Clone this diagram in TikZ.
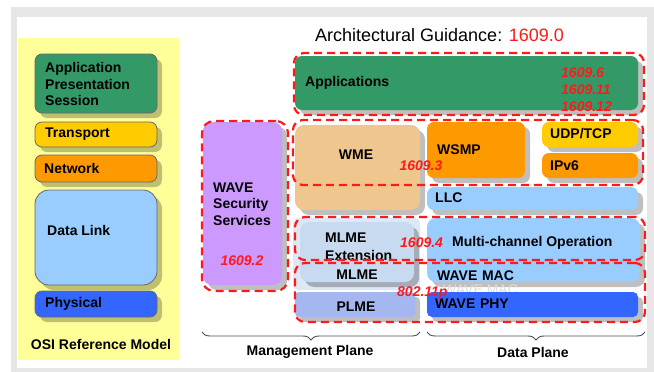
\documentclass[tikz,border=0pt]{standalone}
\usepackage{fontspec}
\setmainfont{Liberation Sans}
\usetikzlibrary{decorations.pathreplacing}

\definecolor{frameG}{HTML}{E6E6E6}
\definecolor{panelY}{HTML}{FFFF99}
\definecolor{layGreen}{HTML}{339966}
\definecolor{layGold}{HTML}{FFCC00}
\definecolor{layOrange}{HTML}{FF9900}
\definecolor{laySky}{HTML}{99CCFF}
\definecolor{layBlue}{HTML}{3366FF}
\definecolor{layPurple}{HTML}{CC99FF}
\definecolor{layTan}{HTML}{EFC68E}
\definecolor{layPale}{HTML}{DCE8F5}
\definecolor{layMlme}{HTML}{C7DAEF}
\definecolor{layPlme}{HTML}{A4B7F0}
\definecolor{stdRed}{HTML}{FF1A1A}

% \slab[style]{x1}{y1}{x2}{y2}{name}: a box node spanning the given corners
\newcommand\slab[6][]{%
  \node[slab,#1,minimum width={#4-#2},minimum height={#5-#3}] (#6)
    at ({(#2+#4)/2},{(#3+#5)/2}) {};}

\tikzset{
  slab/.style={rectangle,inner sep=0pt,outer sep=0pt,draw=none},
  % shadow falls 5 units right and 5 units down (the y axis points down)
  shade5/.style={preaction={fill=black,fill opacity=0.25,draw=none,
      transform canvas={shift={(5,5)}}}},
  osi/.style={shade5,rounded corners=7pt,draw=black!60,line width=0.8pt},
  lay/.style={shade5,rounded corners=7pt},
  zone/.style={draw=stdRed,line width=2.2pt,dash pattern=on 8pt off 5pt,rounded corners=10pt},
  lbl/.style={font=\fontsize{14}{16.7}\selectfont\bfseries,inner sep=0pt,anchor=west,align=left},
  num/.style={lbl,text=stdRed,font=\fontsize{14}{17}\selectfont\bfseries\itshape},
  plane/.style={font=\fontsize{14}{16}\selectfont\bfseries,inner sep=0pt},
  brc/.style={draw=black!70,line width=0.9pt,decorate,decoration={brace,mirror,amplitude=8pt}}
}

\begin{document}
\begin{tikzpicture}[x=1pt,y=-1pt]
\useasboundingbox (0,0) rectangle (654,372);

% outer frame
\fill[frameG] (11,7) rectangle (654,372);
\fill[white] (17,17) rectangle (647,368);

% OSI reference model column
\slab[fill=panelY]{18}{38}{179}{360}{osiPanel}
\slab[osi,fill=layGreen]{35}{54}{157}{113}{osiApp}
\slab[osi,fill=layGold]{35}{122}{157}{147}{osiTrans}
\slab[osi,fill=layOrange]{35}{155}{157}{182}{osiNet}
\slab[osi,fill=laySky,rounded corners=14pt]{35}{190}{157}{285}{osiLink}
\slab[osi,fill=layBlue]{35}{291}{157}{317}{osiPhy}

\node[lbl] (tApp) at (45,84) {Application\\Presentation\\Session};
\node[lbl] (tTrans) at (45,134.5) {Transport};
\node[lbl] (tNet) at (44,168) {Network};
\node[lbl] (tLink) at (47,230) {Data Link};
\node[lbl] (tPhy) at (45,304) {Physical};
\node[plane] (tOsi) at (101,344) {OSI Reference Model};

% title
\node[inner sep=0pt,anchor=west,font=\fontsize{18}{20}\selectfont] (title) at (315,35)
  {Architectural Guidance: \textcolor{stdRed}{1609.0}};

% WAVE stack
\slab[lay,fill=layGreen]{295}{56}{638}{110}{apps}

\slab[lay,fill=layPurple,rounded corners=9pt]{203}{122}{282}{285}{sec}

\slab[lay,fill=layTan,rounded corners=9pt]{295}{125}{420}{210}{wme}
\slab[lay,fill=layOrange]{427}{122}{525}{178}{wsmp}
\slab[lay,fill=layGold]{542}{122}{638}{147}{udp}
\slab[lay,fill=layOrange]{542}{153}{638}{178}{ipv}
\slab[lay,fill=laySky]{427}{187}{638}{210}{llc}

\slab[fill=layPale,rounded corners=6pt]{293}{218}{420}{290}{mgmtBack}
\slab[lay,fill=layMlme,rounded corners=9pt]{300}{222}{414}{282}{mlme}
\slab[lay,fill=layPlme,rounded corners=4pt]{295}{292}{415}{317}{plme}

\slab[lay,fill=laySky,rounded corners=9pt]{427}{218}{640}{282}{mac}
\node[lbl,font=\fontsize{14}{16}\selectfont,text=black!13] (macGhost) at (443,290) {WAVE MAC};
\slab[lay,fill=layBlue,rounded corners=5pt]{427}{292}{638}{317}{phy}

% layer labels
\node[lbl] (tApps) at (305,83) {Applications};
\node[lbl] (tSec) at (213,204) {WAVE\\Security\\Services};
\node[lbl,anchor=center] (tWme) at (356,155) {WME};
\node[lbl] (tWsmp) at (437,150) {WSMP};
\node[lbl] (tUdp) at (550,134) {UDP/TCP};
\node[lbl] (tIpv) at (550,166) {IPv6};
\node[lbl] (tLlc) at (435,198) {LLC};
\node[lbl] (tMlmeX) at (325,238) {MLME};
\node[lbl] (tExt) at (325,255) {Extension};
\node[lbl,anchor=center] (tMlme) at (357,275) {MLME};
\node[lbl,anchor=center] (tPlme) at (356,307) {PLME};
\node[lbl] (tMulti) at (452,243) {Multi-channel Operation};
\node[lbl] (tMac) at (437,276) {WAVE\,\,MAC};
\node[lbl] (tPhy2) at (435,304) {WAVE\,\,PHY};

% standard boundaries
\slab[zone]{294}{53}{644}{115}{zApps}
\slab[zone,rounded corners=12pt]{202}{121}{288}{291}{zSec}
\slab[zone]{293}{120}{643}{185}{zNet}
\slab[zone]{295}{217}{645}{260}{zMulti}
\slab[zone]{295}{263}{645}{322}{zPhy}

% standard numbers
\node[num] (n6) at (561,90) {1609.6\\1609.11\\1609.12};
\node[num,anchor=center] (n2) at (242,261) {1609.2};
\node[num,anchor=center] (n3) at (421,166) {1609.3};
\node[num] (n4) at (400,243) {1609.4};
\node[num] (n11p) at (397,293) {802.11p};

% planes
\coordinate (mL) at (202,332);
\coordinate (mR) at (420,332);
\coordinate (dL) at (427,332);
\coordinate (dR) at (645,332);
\draw[brc] (mL) -- (mR);
\draw[brc] (dL) -- (dR);
\node[plane] (tMgmt) at (310,352) {Management Plane};
\node[plane] (tData) at (533,352) {Data Plane};
\end{tikzpicture}
\end{document}
